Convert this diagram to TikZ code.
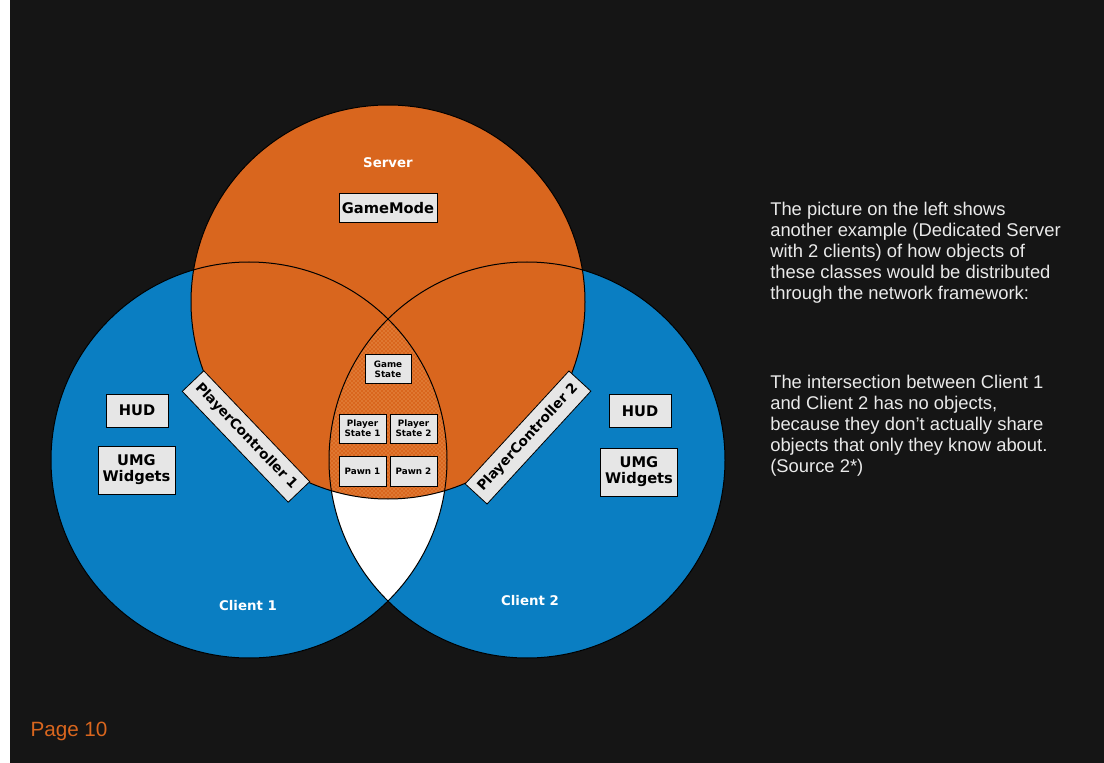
\documentclass[tikz,border=0pt]{standalone}
\usepackage{fontspec}
\setmainfont{Liberation Sans}
\newfontfamily\boxfont{DejaVu Sans}
\usetikzlibrary{patterns}
\definecolor{bgdark}{HTML}{151515}
\definecolor{srvorange}{HTML}{D9661E}
\definecolor{cliblue}{HTML}{0A7EC2}
\definecolor{boxgrey}{HTML}{E6E6E6}
\definecolor{dotorange}{HTML}{F7B878}
\definecolor{txtgrey}{HTML}{EAEAEA}
\tikzset{obj/.style={draw=black, fill=boxgrey, line width=0.6pt, inner sep=0pt, align=center, font=\boxfont\bfseries\fontsize{11}{12}\selectfont}}
\tikzset{smallobj/.style={obj, minimum width=35.25pt, minimum height=21.75pt, font=\boxfont\bfseries\fontsize{6.6}{7.6}\selectfont}}
\tikzset{ctrl/.style={obj, minimum width=115pt, minimum height=22.3pt, font=\boxfont\bfseries\fontsize{10.3}{11}\selectfont}}
\tikzset{area/.style={text=white, font=\boxfont\bfseries\fontsize{10}{12}\selectfont}}
\tikzset{note/.style={text=txtgrey, inner sep=0pt, anchor=north west, align=left, font=\fontsize{13.8}{15.75}\selectfont}}
\tikzset{rim/.style={draw=black, line width=0.75pt}}
\begin{document}
\begin{tikzpicture}[x=0.75pt, y=-0.75pt]
\useasboundingbox (0,0) rectangle (1104,763);
\fill[white] (0,0) rectangle (10,763);
\fill[bgdark] (10,0) rectangle (1104,763);
\coordinate (srv) at (388,302);
\coordinate (cl1) at (249,460);
\coordinate (cl2) at (527,460);
\fill[cliblue] (cl1) circle[radius=148.5pt];
\fill[cliblue] (cl2) circle[radius=148.5pt];
\begin{scope}
\clip (cl1) circle[radius=148.5pt];
\fill[white] (cl2) circle[radius=148.5pt];
\end{scope}
\fill[srvorange] (srv) circle[radius=147.75pt];
\begin{scope}
\clip (cl1) circle[radius=148.5pt];
\clip (cl2) circle[radius=148.5pt];
\fill[pattern=crosshatch dots, pattern color=dotorange] (srv) circle[radius=147.75pt];
\end{scope}
\draw[rim] (cl1) circle[radius=148.5pt];
\draw[rim] (cl2) circle[radius=148.5pt];
\draw[rim] (srv) circle[radius=147.75pt];
\node[area] (srvlabel) at (388,163) {Server};
\node[area] (cl1label) at (248,606) {Client 1};
\node[area] (cl2label) at (530,601) {Client 2};
\node[obj, minimum width=73.5pt, minimum height=21.75pt] (gamemode) at (388,208) {GameMode};
\node[smallobj, minimum width=34.5pt] (gamestate) at (388,369) {Game\\State};
\node[smallobj] (pstate1) at (362.5,428.5) {Player\\State 1};
\node[smallobj] (pstate2) at (413.5,428.5) {Player\\State 2};
\node[smallobj, minimum height=22.5pt] (pawn1) at (362.5,471) {Pawn 1};
\node[smallobj, minimum height=22.5pt] (pawn2) at (413.5,471) {Pawn 2};
\node[obj, minimum width=46.5pt, minimum height=24.75pt] (hud1) at (137,410.5) {HUD};
\node[obj, minimum width=57.75pt, minimum height=36pt] (umg1) at (136.5,470) {UMG\\Widgets};
\node[obj, minimum width=46.5pt, minimum height=24.75pt] (hud2) at (640,411) {HUD};
\node[obj, minimum width=57.75pt, minimum height=36pt] (umg2) at (639,472) {UMG\\Widgets};
\node[ctrl, rotate=-46.3] (pc1) at (246,436.5) {PlayerController 1};
\node[ctrl, rotate=47.4] (pc2) at (528,437.5) {PlayerController 2};
\node[note] (para1) at (770,202) {The picture on the left shows\\another example (Dedicated Server\\with 2 clients) of how objects of\\these classes would be distributed\\through the network framework:};
\node[note] (para2) at (770,375) {The intersection between Client 1\\and Client 2 has no objects,\\because they don't actually share\\objects that only they know about.\\(Source 2*)};
\node[text=srvorange, font=\fontsize{15.5}{18}\selectfont] (page) at (69,731) {Page 10};
\end{tikzpicture}
\end{document}
